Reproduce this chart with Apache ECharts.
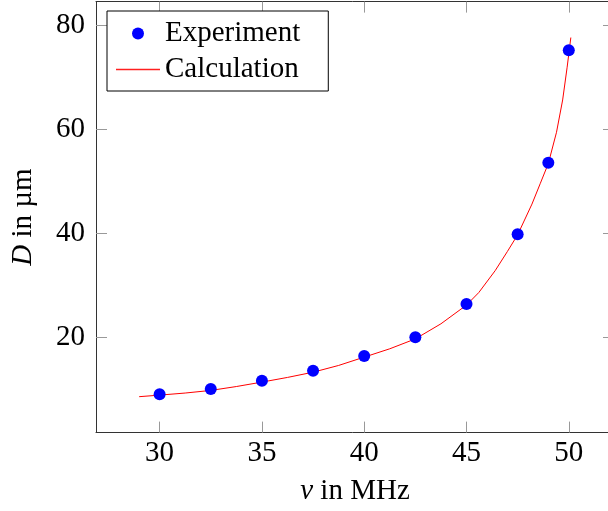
<!DOCTYPE html>
<html>
<head>
<meta charset="utf-8">
<script src="https://cdn.jsdelivr.net/npm/echarts@6/dist/echarts.min.js"></script>
<style>
  html, body { margin: 0; padding: 0; background: #fff; overflow: hidden; }
  #chart { width: 608px; height: 511px; }
</style>
</head>
<body>
<div id="chart"></div>
<script>
// Measured spot diameters
const freqMeasured = [30, 32.5, 35, 37.5, 40, 42.5, 45, 47.5, 49, 50];
const diameterMeasured = [9.05, 10.07, 11.66, 13.58, 16.41, 20.0, 26.4, 39.8, 53.56, 75.14];

// Calculated curve
const freqCalc = [29, 30, 31.25, 32.5, 33.75, 35, 36.25, 37.5, 38.75, 40, 41.25, 42.5, 43.75,
                  45, 45.6, 46.4, 47, 47.5, 48.2, 48.6, 49, 49.4, 49.7, 49.92, 50.1];
const diameterCalc = [8.6, 8.9, 9.3, 9.8, 10.55, 11.4, 12.3, 13.3, 14.6, 16.2, 17.8, 19.7, 22.6,
                      26.2, 28.6, 32.8, 36.5, 39.7, 45.6, 49.5, 53.4, 59.4, 65.6, 71.9, 77.6];

// Axis ticks
const xTicks = [30, 35, 40, 45, 50];
const yTicks = [20, 40, 60, 80];

const FONT = 'Liberation Serif';
const FS = 29;
const X_MIN = 26.89, X_MAX = 52.21;
const Y_MIN = 1.7, Y_MAX = 84.5;

const zip = (a, b) => a.map((v, i) => [v, b[i]]);

const boxLine = { show: true, onZero: false, lineStyle: { color: '#333', width: 1 } };
const tickStyle = { color: '#999', width: 1 };

function xAxisDef(pos, showLabels) {
  return {
    type: 'value', position: pos, min: X_MIN, max: X_MAX,
    axisLine: boxLine,
    axisTick: { show: true, inside: true, length: 11, lineStyle: tickStyle, customValues: xTicks },
    axisLabel: { show: showLabels, customValues: xTicks, margin: 6,
                 fontFamily: FONT, fontSize: FS, color: '#000' },
    splitLine: { show: false }
  };
}
function yAxisDef(pos, showLabels) {
  return {
    type: 'value', position: pos, min: Y_MIN, max: Y_MAX,
    axisLine: boxLine,
    axisTick: { show: true, inside: true, length: 11, lineStyle: tickStyle, customValues: yTicks },
    axisLabel: { show: showLabels, customValues: yTicks, margin: 11,
                 fontFamily: FONT, fontSize: FS, color: '#000' },
    splitLine: { show: false }
  };
}

const xMain = xAxisDef('bottom', true);
Object.assign(xMain, {
  name: '{i|ν} in MHz', nameLocation: 'middle', nameGap: 44,
  nameTextStyle: {
    fontFamily: FONT, fontSize: FS, color: '#000',
    rich: { i: { fontFamily: FONT, fontSize: FS, fontStyle: 'italic', color: '#000' } }
  }
});
const yMain = yAxisDef('left', true);
Object.assign(yMain, {
  name: '{i|D} in µm', nameLocation: 'middle', nameGap: 58,
  nameTextStyle: {
    fontFamily: FONT, fontSize: FS, color: '#000',
    rich: { i: { fontFamily: FONT, fontSize: FS, fontStyle: 'italic', color: '#000' } }
  }
});

const chart = echarts.init(document.getElementById('chart'), null, { renderer: 'canvas' });
chart.setOption({
  animation: false,
  backgroundColor: '#fff',
  // the plot box runs a few pixels past the right edge of the canvas
  grid: { left: 96, top: 1.6, width: 518, height: 431, containLabel: false, outerBoundsMode: 'none' },
  xAxis: [xMain, xAxisDef('top', false)],
  yAxis: [yMain, yAxisDef('right', false)],
  legend: {
    orient: 'vertical', left: 107, top: 11,
    padding: [8, 28, 7, 9],
    itemGap: 7, itemWidth: 44, itemHeight: 12,
    borderColor: '#000', borderWidth: 1, backgroundColor: '#fff',
    textStyle: { fontFamily: FONT, fontSize: FS, color: '#000' },
    itemStyle: { borderWidth: 0 },
    data: [
      { name: 'Experiment', icon: 'circle',
        itemStyle: { color: '#0000ff', borderWidth: 0, opacity: 1 } },
      // thin red bar as the key for the curve
      { name: 'Calculation', icon: 'path://M0,0h44v1.6h-44z',
        itemStyle: { color: '#ff2020', borderWidth: 0, opacity: 1 } }
    ]
  },
  series: [
    {
      name: 'Calculation', type: 'line', xAxisIndex: 0, yAxisIndex: 0,
      data: zip(freqCalc, diameterCalc),
      smooth: false,
      symbol: 'none', showSymbol: false,
      lineStyle: { color: '#ff0000', width: 1 },
      itemStyle: { color: '#ff0000' },
      z: 2
    },
    {
      name: 'Experiment', type: 'scatter', xAxisIndex: 0, yAxisIndex: 0,
      data: zip(freqMeasured, diameterMeasured),
      symbol: 'circle', symbolSize: 12,
      itemStyle: { color: '#0000ff', opacity: 1 },
      z: 3
    }
  ]
});
</script>
</body>
</html>
